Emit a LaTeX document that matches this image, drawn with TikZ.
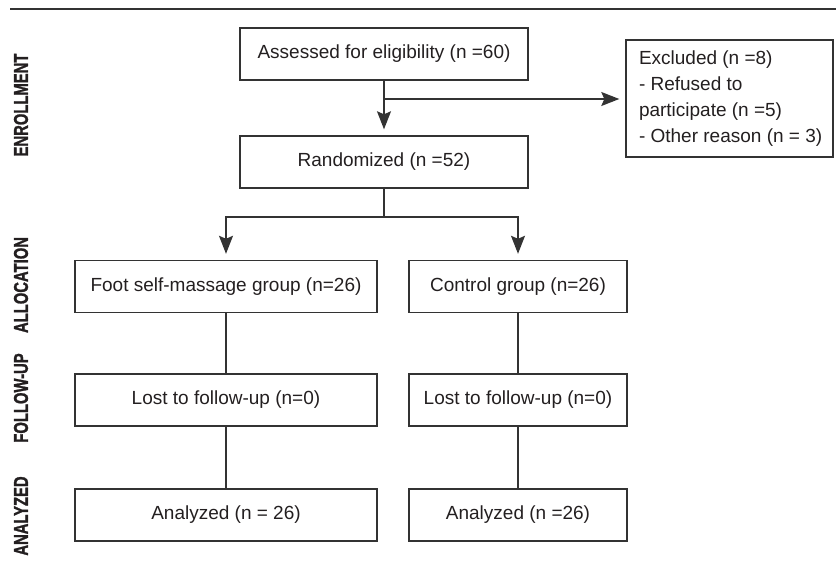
\documentclass[tikz,border=0pt]{standalone}
\usepackage{fontspec}
\setmainfont{Liberation Sans}
\newfontfamily\labfont{Liberation Sans Bold}[FakeBold=1.5]
\usetikzlibrary{arrows.meta}
\definecolor{lc}{HTML}{333333}
\definecolor{tc}{HTML}{231F20}
\begin{document}
\begin{tikzpicture}[x=1pt,y=-1pt,
  box/.style={draw=lc, line width=1.4pt, minimum height=52pt, inner sep=0pt,
    font=\fontsize{19}{23}\selectfont, text=tc},
  conn/.style={draw=lc, line width=1.4pt},
  arr/.style={conn, -{Stealth[length=18pt,width=14pt,inset=3pt]}, shorten >=6pt},
  phase/.style={rotate=90, inner sep=0pt, font=\fontsize{20}{24}\labfont, text=tc}]
\useasboundingbox (0,0) rectangle (836,575);
\draw[conn] (10,9) -- (836,9);
% phase labels
\node[phase] (pe) at (21,105) {\scalebox{0.74}[1]{ENROLLMENT}};
\node[phase] (pa) at (21,285) {\scalebox{0.74}[1]{ALLOCATION}};
\node[phase] (pf) at (21,398) {\scalebox{0.74}[1]{FOLLOW-UP}};
\node[phase] (pz) at (21,516) {\scalebox{0.74}[1]{ANALYZED}};
% boxes
\node[box, minimum width=288pt] (assess) at (384,54) {Assessed for eligibility (n =60)};
\node[box, minimum width=288pt] (rand) at (384,162) {Randomized (n =52)};
\node[box, minimum width=207pt, minimum height=117pt] (excl) at (729.5,98.5)
  {\parbox{181pt}{\fontsize{19}{26}\selectfont
   \mbox{Excluded (n =8)}\\\mbox{- Refused to}\\\mbox{participate (n =5)}\\\mbox{- Other reason (n = 3)}}};
\node[box, minimum width=302pt] (foot) at (226,286.5) {Foot self-massage group (n=26)};
\node[box, minimum width=218pt] (ctrl) at (518,286.5) {Control group (n=26)};
\node[box, minimum width=302pt] (lfl) at (226,400) {Lost to follow-up (n=0)};
\node[box, minimum width=218pt] (lfr) at (518,400) {Lost to follow-up (n=0)};
\node[box, minimum width=302pt] (anl) at (226,515) {Analyzed (n = 26)};
\node[box, minimum width=218pt] (anr) at (518,515) {Analyzed (n =26)};
% connectors
\coordinate (br) at (384,99);
\coordinate (sp) at (384,217);
\draw[arr] (assess) -- (rand);
\draw[arr] (br) -- (br -| excl.west);
\draw[conn] (rand) -- (sp);
\draw[arr] (sp) -| (foot);
\draw[arr] (sp) -| (ctrl);
\draw[conn] (foot) -- (lfl);
\draw[conn] (lfl) -- (anl);
\draw[conn] (ctrl) -- (lfr);
\draw[conn] (lfr) -- (anr);
\end{tikzpicture}
\end{document}
